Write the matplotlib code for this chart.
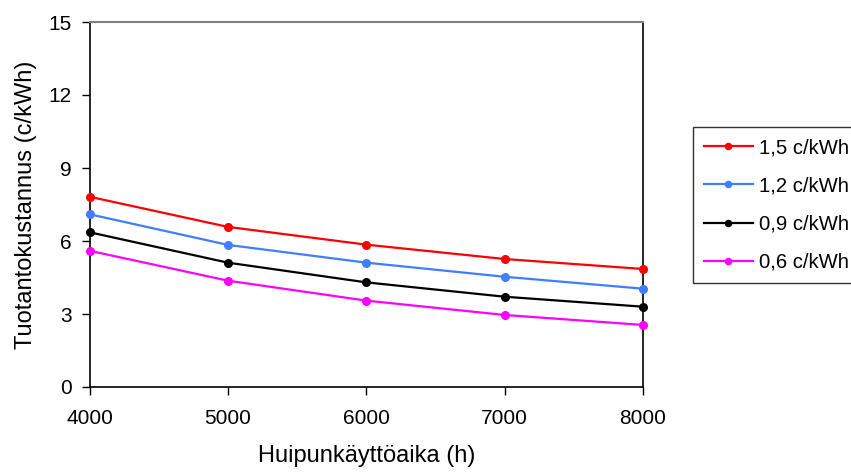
import matplotlib
matplotlib.use("Agg")
import matplotlib.pyplot as plt

plt.rcParams['font.family'] = ['Liberation Sans', 'DejaVu Sans']

# Peak utilisation time (h)
hours = [4000, 5000, 6000, 7000, 8000]

# Production cost (c/kWh) for different fuel prices
cost_15 = [7.82, 6.58, 5.85, 5.26, 4.85]
cost_12 = [7.10, 5.84, 5.11, 4.53, 4.04]
cost_09 = [6.36, 5.11, 4.30, 3.71, 3.30]
cost_06 = [5.60, 4.37, 3.55, 2.96, 2.55]

labels = ["1,5 c/kWh", "1,2 c/kWh", "0,9 c/kWh", "0,6 c/kWh"]
colors = ["#ff0000", "#3f7fff", "#000000", "#ff00ff"]

yticks = [0, 3, 6, 9, 12, 15]
xticks = [4000, 5000, 6000, 7000, 8000]

fig = plt.figure(figsize=(8.51, 4.75), dpi=100)
ax = fig.add_axes([89.5 / 851, 1 - 387 / 475, (643 - 89.5) / 851, (387 - 22) / 475])

for series, lab, col in zip([cost_15, cost_12, cost_09, cost_06], labels, colors):
    ax.plot(hours, series, color=col, lw=1.6, marker='o', ms=5.5, label=lab,
            clip_on=False, zorder=3)

ax.set_xlim(4000, 8000)
ax.set_ylim(0, 15)
ax.set_xticks(xticks)
ax.set_yticks(yticks)
ax.tick_params(axis='both', direction='out', length=6, width=1, labelsize=15,
               color='black')
ax.tick_params(axis='x', pad=10)
ax.tick_params(axis='y', pad=7)

for side in ['left', 'bottom', 'right']:
    ax.spines[side].set_color('black')
    ax.spines[side].set_linewidth(1.2)
ax.spines['top'].set_color('#808080')
ax.spines['top'].set_linewidth(1.5)

ax.set_xlabel("Huipunkäyttöaika (h)", fontsize=17, labelpad=12)
ax.set_ylabel("Tuotantokustannus (c/kWh)", fontsize=17, labelpad=8)

leg = fig.legend(loc='upper left', bbox_to_anchor=(693 / 851, 1 - 127 / 475),
                 fontsize=14.6, frameon=True, fancybox=False, edgecolor='black',
                 handlelength=2.4, handletextpad=0.3, labelspacing=0.95,
                 borderpad=0.55, borderaxespad=0, markerscale=0.8)
leg.get_frame().set_linewidth(1.0)

fig.savefig("out.png", dpi=100)
